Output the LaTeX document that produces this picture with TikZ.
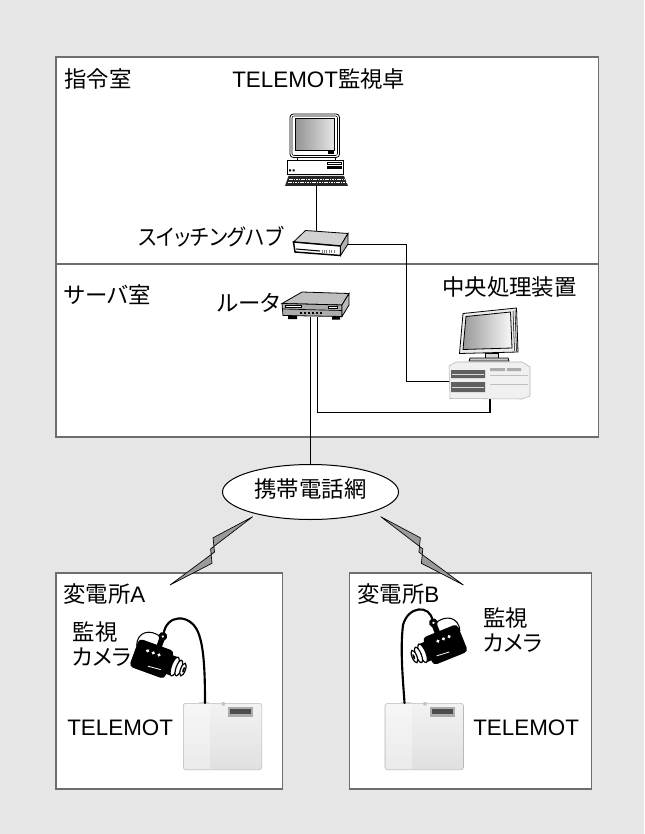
\documentclass[tikz,border=0pt]{standalone}
\usepackage{fontspec}
\setmainfont{Liberation Sans}
\newfontfamily\jpfont[RawFeature=+palt]{Noto Sans CJK JP}
\usetikzlibrary{shapes.geometric,calc}
\definecolor{bggray}{HTML}{E6E6E6}
\definecolor{roomline}{HTML}{6E6E6E}
\definecolor{boltgray}{HTML}{9A9A9A}

% surveillance camera, local frame: lens along +x, mount towards -y
\newcommand\survcam{%
  \draw[line width=0.8pt] (-1,-21) .. controls (-13,-25) and (-23,-18) .. (-19,-6);
  \fill[black, rounded corners=3pt] (-19,-13) rectangle (15,14);
  \fill[black] (12,-9) rectangle (19,9);
  \fill[white] (-8,-5) circle (1.2pt) (-2.5,-5) circle (1.2pt) (3,-5) circle (1.2pt);
  \draw[white, line width=0.6pt] (-3,8) -- (9,7);
  \draw[fill=white, line width=0.9pt] (20,0) ellipse (3 and 9);
  \draw[fill=white, line width=0.9pt] (24,0) ellipse (2.5 and 7.5);
  \draw[fill=white, line width=0.9pt] (28,0) ellipse (2.2 and 6);
  \fill[black] (28.6,0) ellipse (0.9 and 2.6);
  \fill[black] (-2,-12) rectangle (3,-20);
  \fill[black] (0.5,-22) circle (3pt);
  \fill[white] (0.5,-22) circle (0.9pt);
}

% telemetry unit, local frame: top-left corner at origin
\newcommand\telemotbox{%
  \shade[top color=gray!10, bottom color=gray!24, rounded corners=2pt] (0,0) rectangle (78.5,66.5);
  \fill[white, opacity=0.35] (1,1) rectangle (27,65.5);
  \draw[gray!55, line width=0.4pt, rounded corners=2pt] (0,0) rectangle (78.5,66.5);
  \fill[gray!35] (16,-1.5) rectangle (26,1);
  \fill[gray!45] (40,0.5) circle (1.5pt);
  \fill[gray!65] (45,3.5) rectangle (70,13.5);
  \fill[black!70] (47,6) rectangle (68,11);
}

\begin{document}
\begin{tikzpicture}[x=0.75pt, y=-0.75pt,
  lbl/.style={inner sep=0pt, text height=0.8em, text depth=0.05em,
              font=\fontsize{16.8pt}{19pt}\selectfont},
  room/.style={draw=roomline, line width=1.1pt, fill=white},
  wire/.style={black, line width=0.8pt},
  cable/.style={black, line width=1.6pt, line cap=round},
  bolt/.style={fill=boltgray, draw=black, line width=0.5pt},
  outline/.style={draw=black, line width=0.6pt},
]
\fill[bggray] (0,0) rectangle (644,834);
\useasboundingbox (0,0) rectangle (644,834);

% rooms
\draw[room] (56,57) rectangle (598.5,437);
\draw[roomline, line width=1.1pt] (56,264) -- (598.5,264);
\draw[room] (56,573) rectangle (282.5,789);
\draw[room] (349.5,573) rectangle (591.5,789);

% connection points of the devices
\coordinate (wsport) at (316.7,186);
\coordinate (hubtop) at (316.7,231.4);
\coordinate (hubright) at (348,244.3);
\coordinate (rtportA) at (310.5,317);
\coordinate (rtportB) at (317.5,317);
\coordinate (pcleft) at (449,381.7);
\coordinate (pcbottom) at (490,398.5);
\coordinate (bendA) at (406.7,244.3);
\coordinate (bendB) at (317.5,412.7);

% network ellipse
\node[ellipse, draw, fill=white, line width=0.75pt, minimum width=132pt,
      minimum height=41.25pt, lbl] (net) at (310.5,492) {\jpfont 携帯電話網};

% wiring
\draw[wire] (wsport) -- (hubtop);
\draw[wire] (hubright) -- (bendA) |- (pcleft);
\draw[wire] (rtportB) -- (bendB) -| (pcbottom);
\draw[wire] (rtportA) -- (rtportA |- net.north);

% monitoring workstation
\draw[outline, fill=white, rounded corners=2.5pt] (290,114) rectangle (339.5,157.5);
\draw[line width=0.4pt, rounded corners=1.5pt] (292,116) rectangle (337.5,155.5);
\shade[left color=gray!85, right color=gray!20] (295,118.5) rectangle (334.5,150);
\draw[outline] (295,118.5) rectangle (334.5,150);
\fill[black] (328,151.5) rectangle (334,154);
\draw[outline, fill=white] (297,157.5) rectangle (335,160);
\draw[outline, fill=white] (287,160) rectangle (343.5,174.5);
\draw[outline, fill=white] (327,162) rectangle (341.5,164.5);
\fill[black] (327,166.5) rectangle (341.5,169);
\fill[black] (289,169.5) rectangle (291,171.5) (292.5,169.5) rectangle (294.5,171.5);
\fill[black!85] (288.5,176) -- (344,176) -- (348,186) -- (285,186) -- cycle;
\draw[white, line width=0.4pt, dash pattern=on 1.2pt off 0.6pt] (289,179) -- (345,179);
\draw[white, line width=0.4pt, dash pattern=on 1.2pt off 0.6pt] (288,182.5) -- (346.5,182.5);

% switching hub
\draw[outline, fill=gray!35] (293.5,242) -- (305.5,230.5) -- (348,233.5) -- (340.5,246) -- cycle;
\draw[line width=1.1pt, fill=white] (293.5,242) -- (340.5,246) -- (340.5,255.5) -- (295,252) -- cycle;
\draw[outline, fill=gray!60] (340.5,246) -- (348,233.5) -- (348,244) -- (340.5,255.5) -- cycle;
\draw[line width=0.8pt] (296,249) -- (320,251);
\foreach \i in {0,...,5} \draw[gray, line width=0.5pt] (322+2.4*\i,249.5) -- ++(0,3);

% router
\draw[outline, fill=gray!50] (282,303.5) -- (302,292) -- (349,293.5) -- (342,305) -- cycle;
\draw[outline, fill=gray!65] (282,303.5) -- (342,305) -- (342,316.5) -- (283,315.5) -- cycle;
\draw[outline, fill=gray!55] (342,305) -- (349,293.5) -- (349,305) -- (342,316.5) -- cycle;
\draw[line width=0.5pt] (282.5,309) -- (342,310.5);
\draw[outline, fill=white] (285,305.5) rectangle (301,307.5);
\draw[outline, fill=white] (328,306.5) rectangle (337,308.5);
\foreach \i in {0,...,5} \fill[black] (300+4*\i,312.3) rectangle ++(1.6,1.2);
\fill[black] (288,315.5) rectangle (297,319) (332,316.5) rectangle (340,319.5);

% central processing unit
\draw[outline, fill=gray!15] (463,313.5) -- (516.5,308) -- (518,352) -- (459.5,353.5) -- cycle;
\shade[left color=gray!80, right color=gray!5] (466,316.5) -- (510.5,312) -- (512,348) -- (463,349.5) -- cycle;
\draw[outline] (466,316.5) -- (510.5,312) -- (512,348) -- (463,349.5) -- cycle;
\draw[line width=0.4pt] (513,311) -- (514.5,350.5) (515,310) -- (516.5,351);
\draw[outline, fill=gray!30] (485,353) rectangle (498,358);
\draw[outline, fill=gray!45] (470,358) -- (508,358) -- (509,361) -- (469,361) -- cycle;
\draw[draw=gray!60, fill=gray!12] (449,366) -- (456,362) -- (522,362) -- (530,367) -- (530,396) -- (522,399) -- (450,398.5) -- cycle;
\fill[gray!75!black] (451,370) rectangle (485,378) (451,382) rectangle (485,392);
\draw[gray!30, line width=0.4pt] (452,374) -- (484,374) (452,387) -- (484,387);
\fill[gray!65] (490,368) rectangle (505,371) (507,368) rectangle (521,371);
\draw[gray!50, line width=0.4pt] (490,375) -- (528,375) (490,384) -- (528,384);

% radio links
\draw[bolt] (252.7,516.7) -- (213.05,537.8) -- (214.5,552.1) -- (170,585) -- (212.0,563.3) -- (210.6,548.9) -- cycle;
\draw[bolt] (380.7,516.7) -- (420.35,537.8) -- (418.9,552.1) -- (463.4,585) -- (421.4,563.3) -- (422.8,548.9) -- cycle;

% substation A
\begin{scope}[shift={(183.3,703.3)}]
  \telemotbox
\end{scope}
\coordinate (telAjack) at (205,703);
\begin{scope}[shift={(154,659)}, rotate=-20, scale=1.1]
  \survcam
  \coordinate (camAjack) at (0.5,-24);
\end{scope}
\draw[cable] (camAjack) .. controls (166,614) and (190,613) .. (198,632)
             .. controls (204,646) and (205,672) .. (telAjack);

% substation B
\begin{scope}[shift={(385,703.3)}]
  \telemotbox
\end{scope}
\coordinate (telBjack) at (404.5,703);
\begin{scope}[shift={(443,645)}, rotate=22, xscale=-1, scale=1.1]
  \survcam
  \coordinate (camBjack) at (0.5,-24);
\end{scope}
\draw[cable] (camBjack) .. controls (430,604) and (408,606) .. (403,625)
             .. controls (400,650) and (403,680) .. (telBjack);

% labels
\node[lbl, anchor=west] (ctrlroom) at (64,83) {\jpfont 指令室};
\node[lbl, anchor=west] (deskname) at (232,83) {TELEMOT{\jpfont 監視卓}};
\node[lbl, anchor=west, xscale=0.91] (hubname) at (138,240) {\jpfont スイッチングハブ};
\node[lbl, anchor=west] (srvroom) at (64,298) {\jpfont サーバ室};
\node[lbl, anchor=west] (rtname) at (217,306.7) {\jpfont ルータ};
\node[lbl, anchor=west] (cpuname) at (442,290) {\jpfont 中央処理装置};
\node[lbl, anchor=west] (subA) at (63,597) {{\jpfont 変電所}A};
\node[lbl, anchor=west] (subB) at (357,597) {{\jpfont 変電所}B};
\node[lbl, anchor=west] (camAname1) at (72.5,635) {\jpfont 監視};
\node[lbl, anchor=west] (camAname2) at (72,660) {\jpfont カメラ};
\node[lbl, anchor=west] (telAname) at (67,730) {TELEMOT};
\node[lbl, anchor=west] (camBname1) at (483,621) {\jpfont 監視};
\node[lbl, anchor=west] (camBname2) at (483,646) {\jpfont カメラ};
\node[lbl, anchor=west] (telBname) at (473,730) {TELEMOT};
\end{tikzpicture}
\end{document}
